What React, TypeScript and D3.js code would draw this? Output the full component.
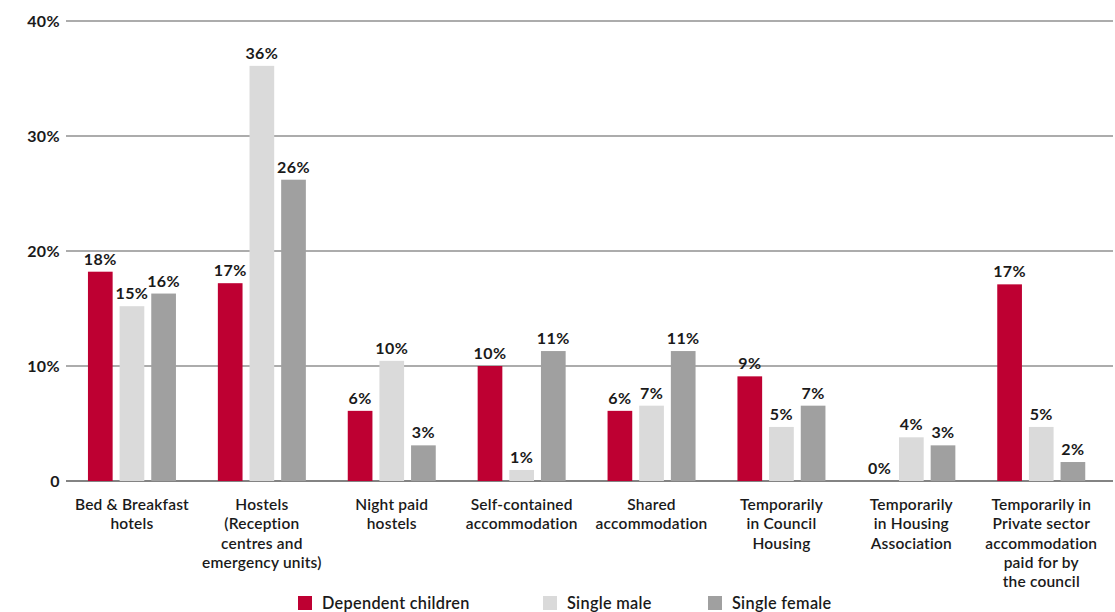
import React from "react";
import * as d3 from "d3";

// Share of households in each type of temporary accommodation, by household type (%)
const categories: string[][] = [
  ["Bed & Breakfast", "hotels"],
  ["Hostels", "(Reception", "centres and", "emergency units)"],
  ["Night paid", "hostels"],
  ["Self-contained", "accommodation"],
  ["Shared", "accommodation"],
  ["Temporarily", "in Council", "Housing"],
  ["Temporarily", "in Housing", "Association"],
  ["Temporarily in", "Private sector", "accommodation", "paid for by", "the council"],
];

const seriesNames = ["Dependent children", "Single male", "Single female"];
const dependentChildren = [18.2, 17.2, 6.1, 10.0, 6.1, 9.1, 0, 17.1];
const singleMale = [15.2, 36.1, 10.45, 0.96, 6.55, 4.7, 3.8, 4.7];
const singleFemale = [16.3, 26.2, 3.1, 11.3, 11.3, 6.55, 3.1, 1.65];
const yTicks = [0, 10, 20, 30, 40];

const series = [dependentChildren, singleMale, singleFemale];
const colors = ["#BE0032", "#DADADA", "#A0A0A0"];

const W = 1115;
const H = 612;
const FONT = "Lato, 'Open Sans', sans-serif";
const TEXT = "#1a1a1a";

export default function App() {
  const y = d3.scaleLinear().domain([0, 40]).range([481, 21]);
  const x = d3
    .scaleBand<number>()
    .domain(d3.range(categories.length))
    .range([67, 67 + 129.9 * categories.length])
    .paddingInner(0)
    .paddingOuter(0);
  const inner = d3
    .scaleBand<number>()
    .domain([0, 1, 2])
    .range([-44, 44])
    .paddingInner(0.22)
    .paddingOuter(0);
  const fmt = (v: number) => `${Math.round(v)}%`;
  const legendX = [298, 543, 708];

  return (
    <svg
      width={W}
      height={H}
      style={{ position: "absolute", left: 0, top: 0, background: "#fff" }}
      fontFamily={FONT}
    >
      {/* gridlines */}
      {yTicks.map((t) => (
        <line
          key={t}
          x1={66}
          x2={1113}
          y1={y(t)}
          y2={y(t)}
          stroke="#5a5a5a"
          strokeWidth={t === 0 ? 1.4 : 1.1}
        />
      ))}
      {yTicks.map((t) => (
        <text
          key={"l" + t}
          x={60}
          y={y(t)}
          dy="0.36em"
          textAnchor="end"
          fontSize={16}
          fontWeight={700}
          letterSpacing={0.4}
          fill={TEXT}
        >
          {t === 0 ? "0" : `${t}%`}
        </text>
      ))}

      {/* bars and value labels */}
      {categories.map((_, ci) => {
        const cx = (x(ci) as number) + x.bandwidth() / 2;
        return (
          <g key={ci} transform={`translate(${cx},0)`}>
            {series.map((s, si) => {
              const v = s[ci];
              const bx = inner(si) as number;
              const bw = inner.bandwidth();
              return (
                <g key={si}>
                  {v > 0 && (
                    <rect
                      x={bx}
                      y={y(v)}
                      width={bw}
                      height={y(0) - y(v)}
                      fill={colors[si]}
                    />
                  )}
                  <text
                    x={bx + bw / 2}
                    y={y(v) - 7}
                    textAnchor="middle"
                    fontSize={16}
                    fontWeight={700}
                    letterSpacing={0.4}
                    fill={TEXT}
                  >
                    {fmt(v)}
                  </text>
                </g>
              );
            })}
            <text
              textAnchor="middle"
              fontSize={15.5}
              fontWeight={600}
              letterSpacing={0.2}
              fill={TEXT}
            >
              {categories[ci].map((line, li) => (
                <tspan key={li} x={0} y={510 + li * 19.3}>
                  {line}
                </tspan>
              ))}
            </text>
          </g>
        );
      })}

      {/* legend */}
      {seriesNames.map((n, i) => (
        <g key={n} transform={`translate(${legendX[i]},596)`}>
          <rect width={14} height={14} fill={colors[i]} />
          <text x={24} y={12.5} fontSize={16.3} fontWeight={600} letterSpacing={0.3} fill={TEXT}>
            {n}
          </text>
        </g>
      ))}
    </svg>
  );
}
